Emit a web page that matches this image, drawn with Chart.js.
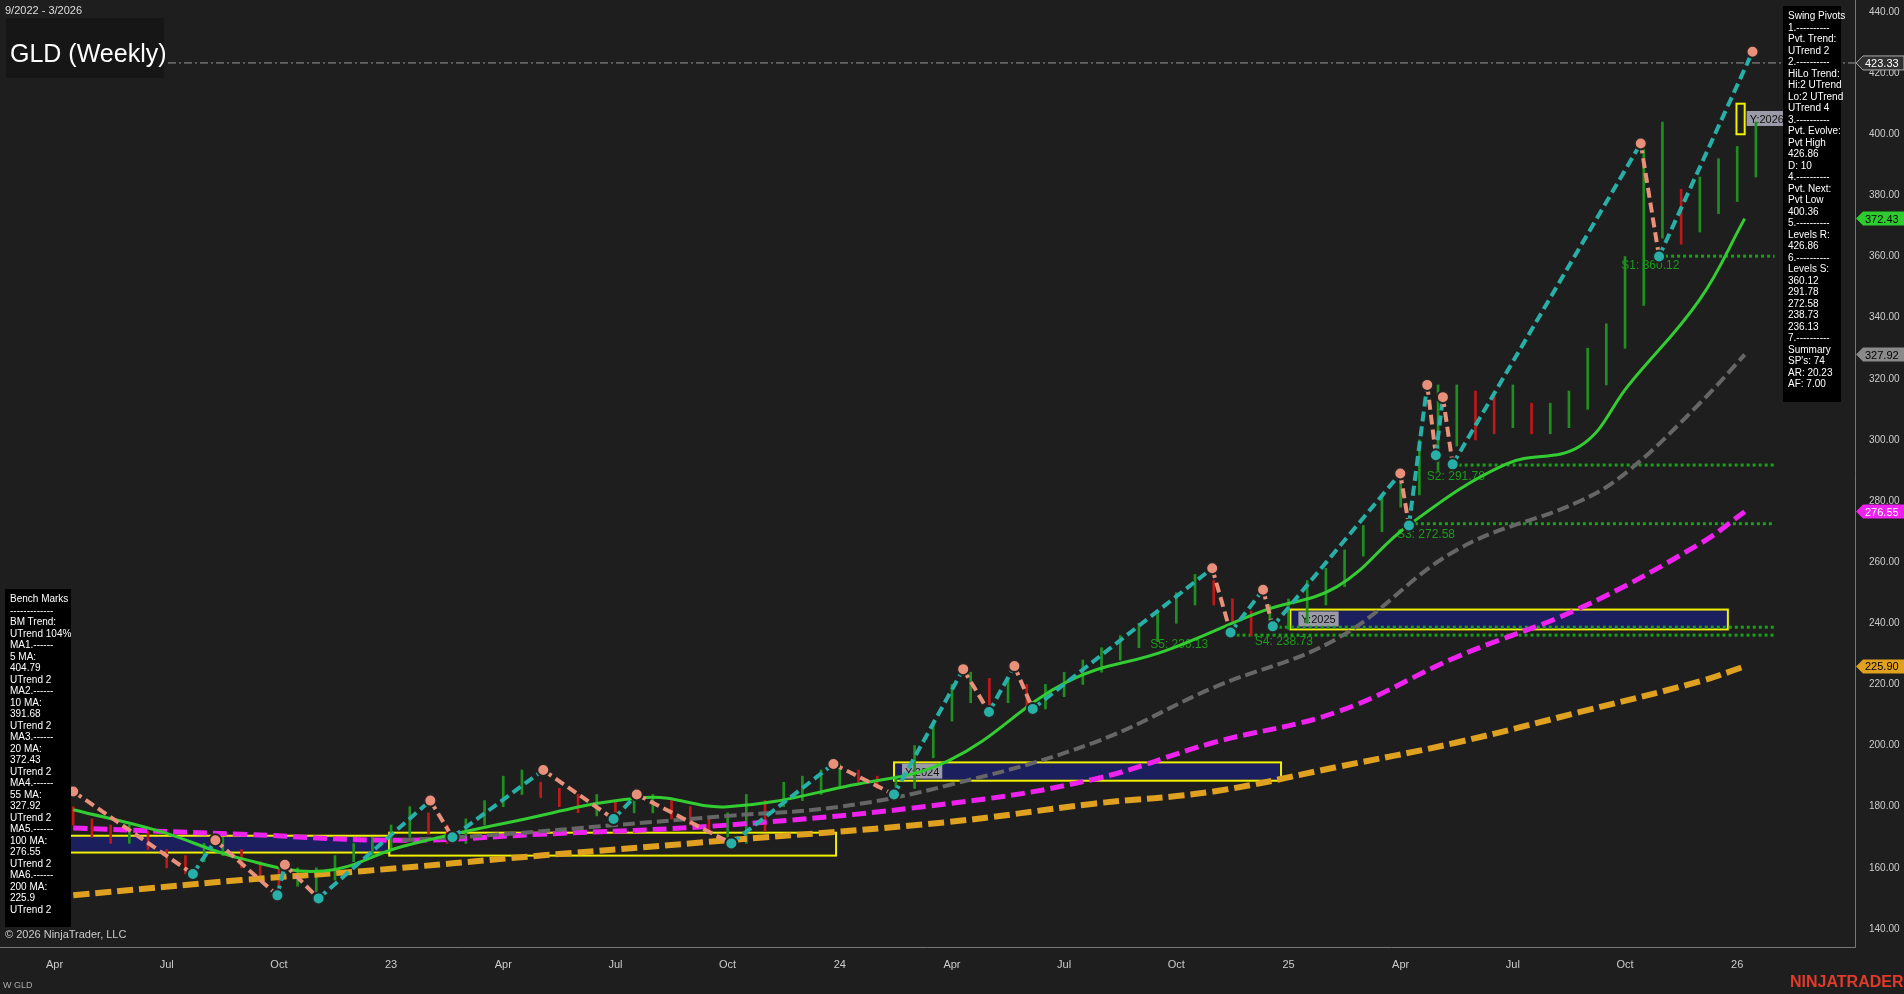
<!DOCTYPE html>
<html><head><meta charset="utf-8">
<script src="https://cdn.jsdelivr.net/npm/chart.js@4.4.1/dist/chart.umd.min.js"></script>
<style>
html,body{margin:0;padding:0;background:#1e1e1e;overflow:hidden}
#wrap{position:relative;width:1904px;height:994px}
.panel{position:absolute;background:#000;color:#fff;font:10px "Liberation Sans",Arial,sans-serif;line-height:11.5px;padding:4px 5px;white-space:pre}
.txt{position:absolute;color:#ddd;font:11px "Liberation Sans",Arial,sans-serif}
</style></head><body>
<div id="wrap">
<canvas id="c" width="1904" height="994"></canvas>
<div class="txt" style="left:5px;top:4px;font-size:11px">9/2022 - 3/2026</div>
<div class="panel" style="left:6px;top:18px;width:158px;height:60px;padding:0;background:#161616"><div style="font-size:25px;margin:30px 0 0 4px;color:#fff">GLD (Weekly)</div></div>
<div class="panel" id="rp" style="left:1783px;top:6px;width:48px;height:388px"></div>
<div class="panel" id="lp" style="left:5px;top:589px;width:56px;height:330px"></div>
<div class="txt" style="left:5px;top:928px;color:#ccc">© 2026 NinjaTrader, LLC</div>
<div class="txt" style="left:3px;top:980px;font-size:9px;color:#aaa">W GLD</div>
<div class="txt" style="left:1790px;top:973px;font-size:16px;font-weight:bold;color:#e03a2a">NINJATRADER</div>
</div>
<script>
// months counted from Jan 2022 = 0
const tickMonths = [3, 6, 9, 12, 15, 18, 21, 24, 27, 30, 33, 36, 39, 42, 45, 48];
const tickNames = ['Apr', 'Jul', 'Oct', '23', 'Apr', 'Jul', 'Oct', '24', 'Apr', 'Jul', 'Oct', '25', 'Apr', 'Jul', 'Oct', '26'];

// price ranges (low, high) per half month
const priceMonths = [2.5,3,3.5,4,4.5,5,5.5,6,6.5,7,7.5,8,8.5,9,9.5,10,10.5,11,11.5,12,12.5,13,13.5,14,14.5,15,15.5,16,16.5,17,17.5,18,18.5,19,19.5,20,20.5,21,21.5,22,22.5,23,23.5,24,24.5,25,25.5,26,26.5,27,27.5,28,28.5,29,29.5,30,30.5,31,31.5,32,32.5,33,33.5,34,34.5,35,35.5,36,36.5,37,37.5,38,38.5,39,39.5,40,40.5,41,41.5,42,42.5,43,43.5,44,44.5,45,45.5,46,46.5,47,47.5,48,48.5];
const priceLow = [180,178,174,170,168,168,166,160,158,162,164,160,156,152,154,152,156,162,164,166,170,171,168,168,174,180,184,183,180,178,177,177,178,178,176,174,172,170,168,172,180,182,184,186,188,186,184,186,196,208,214,212,214,212,212,216,220,224,228,232,234,240,246,246,240,236,238,238,240,246,252,262,270,278,282,290,298,300,302,304,302,302,304,310,318,330,344,366,364,368,374,378,386,392,398];
const priceHigh = [186,184,180,176,174,174,172,166,164,168,170,166,162,160,160,160,164,168,170,174,180,178,174,176,182,190,192,188,186,184,184,182,184,184,182,180,176,178,184,182,188,190,192,194,192,190,190,200,208,220,224,222,222,220,220,224,228,232,236,240,244,250,256,254,248,244,246,248,254,258,264,272,282,290,300,318,318,316,314,318,312,312,316,330,338,360,398,404,382,386,392,396,404,418,428];

// moving averages: [month, value]
const ma20M = [3.5,5.8,8,10.2,12.3,15.2,18.8,21,24.3,26.9,30.1,32.7,35.3,37.3,39.2,41.8,43.8,45.1,47,48.2];
const ma20V = [179,172,163,159,167,175,183,180,187,195,221,231,244,252,272,292,298,318,346,372.4];
const ma55M = [12.3,15,18,21,24,26.9,30.8,34,37.3,40.5,43.8,45.1,47,48.2];
const ma55V = [169,171,174,177,180,187,201,219,235,264,280,290,312,327.9];
const ma100M = [3.5,8,12.3,16,21,26.9,30.8,34,37.3,40.5,43.8,47,48.2];
const ma100V = [173,171,169,171,174,181,189,201,211,229,245,266,276.5];
const ma200M = [3.5,8,11.3,16,21,26.9,30.8,34,37.3,40.5,43.8,47,48.2];
const ma200V = [151,156,159,164,169,175,181,185,193,201,211,221,225.9];

// swing pivots
const pivotM = [3.5,6.7,7.3,8.96,9.16,10.06,13.05,13.64,16.07,17.95,18.57,21.1,23.83,25.45,27.3,27.99,28.67,29.16,33.96,34.45,35.32,35.58,38.99,39.22,39.71,39.94,40.13,40.39,45.42,45.91,48.41];
const pivotV = [185,158,169,151,161,150,182,170,192,176,184,168,194,184,225,211,226,212,258,237,251,239,289,272,318,295,314,292,397,360,427];

// support levels [value, start month, label]
const supVals = [360.12, 291.78, 272.58, 238.73, 236.13];
const supStart = [45.91, 40.39, 39.22, 35.58, 34.45];
const supLabels = ['S1: 360.12', 'S2: 291.78', 'S3: 272.58', 'S4: 238.73', 'S5: 236.13'];

// yearly boxes [m0, m1, v0, v1, label]
const yearBoxes = [
  [1.76, 11.95, 165, 170.5, 'Y:2023', 'navy'],
  [11.95, 23.9, 164, 171.5, '', 'none'],
  [25.45, 35.8, 188.5, 194.5, 'Y:2024', 'navy'],
  [36.05, 47.75, 238, 244.5, 'Y:2025', 'navy'],
  [47.98, 48.2, 400, 410, 'Y:2026', 'none']
];

const rightPanel = ['Swing Pivots','1.----------','Pvt. Trend:','UTrend 2','2.----------','HiLo Trend:','Hi:2 UTrend','Lo:2 UTrend','UTrend 4','3.----------','Pvt. Evolve:','Pvt High','426.86','D: 10','4.----------','Pvt. Next:','Pvt Low','400.36','5.----------','Levels R:','426.86','6.----------','Levels S:','360.12','291.78','272.58','238.73','236.13','7.----------','Summary','SP\'s: 74','AR: 20.23','AF: 7.00'];
const leftPanel = ['Bench Marks','-------------','BM Trend:','UTrend 104%','MA1.------','5 MA:','404.79','UTrend 2','MA2.------','10 MA:','391.68','UTrend 2','MA3.------','20 MA:','372.43','UTrend 2','MA4.------','55 MA:','327.92','UTrend 2','MA5.------','100 MA:','276.55','UTrend 2','MA6.------','200 MA:','225.9','UTrend 2'];
document.getElementById('rp').textContent = rightPanel.join('\n');
document.getElementById('lp').textContent = leftPanel.join('\n');

const tags = [[423.33, '#303030', '#fff'], [372.43, '#2ecc2e', '#000'], [327.92, '#8a8a8a', '#000'], [276.55, '#ee22ee', '#fff'], [225.90, '#e0a020', '#000']];

const xy = (ms, vs) => ms.map((m, i) => ({ x: m, y: vs[i] }));

const overlay = {
  id: 'overlay',
  beforeDatasetsDraw(chart) {
    const { ctx, scales: { x, y }, chartArea: a } = chart;
    ctx.save();
    yearBoxes.forEach(b => {
      const x0 = x.getPixelForValue(b[0]), x1 = x.getPixelForValue(b[1]);
      const y0 = y.getPixelForValue(b[3]), y1 = y.getPixelForValue(b[2]);
      if (b[5] === 'navy') { ctx.fillStyle = '#1c1f5e'; ctx.fillRect(x0, y0, x1 - x0, y1 - y0); }
      ctx.strokeStyle = '#f0f000'; ctx.lineWidth = 2; ctx.strokeRect(x0, y0, x1 - x0, y1 - y0);
      if (b[4]) {
        ctx.font = '11px "Liberation Sans"';
        const w = ctx.measureText(b[4]).width + 6;
        const lx = b[4] === 'Y:2026' ? x1 + 2 : x0 + 8;
        const ly = (y0 + y1) / 2;
        ctx.fillStyle = '#9a9aa8'; ctx.fillRect(lx, ly - 8, w, 15);
        ctx.fillStyle = '#111'; ctx.fillText(b[4], lx + 3, ly + 4);
      }
    });
    // supports
    ctx.setLineDash([3, 3]); ctx.strokeStyle = '#18a018'; ctx.lineWidth = 3;
    supVals.forEach((v, i) => {
      const py = y.getPixelForValue(v);
      ctx.beginPath(); ctx.moveTo(x.getPixelForValue(supStart[i]), py); ctx.lineTo(x.getPixelForValue(49), py); ctx.stroke();
    });
    ctx.setLineDash([]);
    ctx.fillStyle = '#1c9a1c'; ctx.font = '12px "Liberation Sans"';
    const lblPos = [[44.9, 356], [39.7, 287], [38.9, 268], [35.1, 233], [32.3, 232]];
    supLabels.forEach((t, i) => ctx.fillText(t, x.getPixelForValue(lblPos[i][0]), y.getPixelForValue(lblPos[i][1])));
    // last price line
    const py = y.getPixelForValue(423.33);
    ctx.setLineDash([8, 3, 2, 3]); ctx.strokeStyle = '#999'; ctx.lineWidth = 1;
    ctx.beginPath(); ctx.moveTo(a.left + 160, py); ctx.lineTo(a.right, py); ctx.stroke();
    ctx.restore();
  },
  afterDraw(chart) {
    const { ctx, scales: { y }, chartArea: a } = chart;
    ctx.save();
    ctx.strokeStyle = '#777'; ctx.lineWidth = 1;
    ctx.beginPath(); ctx.moveTo(a.right + 0.5, 0); ctx.lineTo(a.right + 0.5, a.bottom + 0.5); ctx.lineTo(0, a.bottom + 0.5); ctx.stroke();
    ctx.font = '11px "Liberation Sans"';
    tags.forEach(t => {
      const py = y.getPixelForValue(t[0]);
      ctx.fillStyle = t[1];
      ctx.beginPath(); ctx.moveTo(a.right + 1, py); ctx.lineTo(a.right + 8, py - 7); ctx.lineTo(1904, py - 7); ctx.lineTo(1904, py + 7); ctx.lineTo(a.right + 8, py + 7); ctx.closePath(); ctx.fill();
      if (t[0] === 423.33) { ctx.strokeStyle = '#aaa'; ctx.stroke(); }
      ctx.fillStyle = t[2]; ctx.fillText(t[0].toFixed(2), a.right + 10, py + 4);
    });
    ctx.restore();
  }
};

const segColor = c => c.p1.parsed.y > c.p0.parsed.y ? '#26b0a8' : '#e8907a';

new Chart(document.getElementById('c'), {
  data: {
    datasets: [
      { type: 'bar', data: priceMonths.map((m, i) => ({ x: m, y: [priceLow[i], priceHigh[i]] })),
        backgroundColor: priceMonths.map((m, i) => i > 0 && priceHigh[i] < priceHigh[i - 1] ? '#c01818' : '#1f8f1f'),
        barThickness: 2, order: 5 },
      { type: 'line', data: xy(ma200M, ma200V), borderColor: '#e0a020', borderWidth: 6, borderDash: [16, 6], pointRadius: 0, tension: 0.4, order: 4 },
      { type: 'line', data: xy(ma100M, ma100V), borderColor: '#ee22ee', borderWidth: 5, borderDash: [14, 6], pointRadius: 0, tension: 0.4, order: 3 },
      { type: 'line', data: xy(ma55M, ma55V), borderColor: '#666', borderWidth: 4, borderDash: [12, 5], pointRadius: 0, tension: 0.4, order: 2 },
      { type: 'line', data: xy(ma20M, ma20V), borderColor: '#33cc33', borderWidth: 3, pointRadius: 0, tension: 0.4, order: 1 },
      { type: 'line', data: xy(pivotM, pivotV), borderWidth: 4, borderDash: [10, 5], segment: { borderColor: segColor },
        pointRadius: 6, pointBorderWidth: 2, pointBorderColor: '#222',
        pointBackgroundColor: pivotV.map((v, i) => (i > 0 && v > pivotV[i - 1]) || i === 0 ? '#e8907a' : '#26b0a8'), order: 0 }
    ]
  },
  options: {
    responsive: false, animation: false,
    layout: { padding: 0 },
    plugins: { legend: { display: false }, tooltip: { enabled: false } },
    scales: {
      x: { type: 'linear', min: 1.755, max: 51.15, offset: false,
        afterFit: s => { s.height = 47; },
        afterBuildTicks: s => { s.ticks = tickMonths.map(v => ({ value: v })); },
        ticks: { color: '#ccc', font: { family: 'Liberation Sans', size: 11 }, maxRotation: 0, autoSkip: false,
          callback: v => tickNames[tickMonths.indexOf(v)] },
        grid: { display: false }, border: { display: false } },
      y: { position: 'right', min: 134.1, max: 440,
        afterFit: s => { s.width = 49; },
        afterBuildTicks: s => { s.ticks = []; for (let v = 140; v <= 440; v += 20) s.ticks.push({ value: v }); },
        ticks: { color: '#ccc', font: { family: 'Liberation Sans', size: 10 }, callback: v => v.toFixed(2), padding: 6 },
        grid: { display: false }, border: { display: false } }
    }
  },
  plugins: [overlay]
});
</script>
</body></html>
